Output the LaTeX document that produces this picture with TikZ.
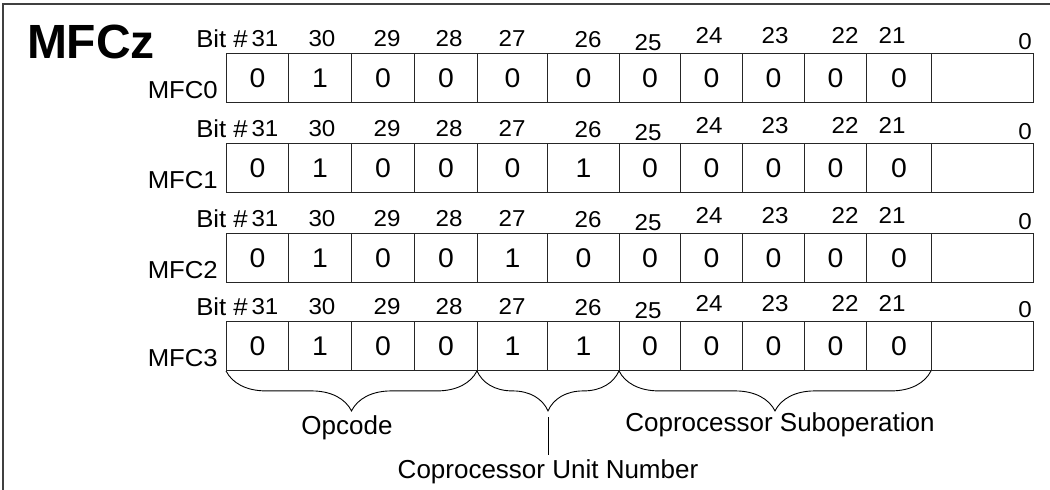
\documentclass[tikz,border=0pt]{standalone}
\usepackage{fontspec}
\setmainfont{Liberation Sans}
\newfontfamily\widesans[FakeStretch=1.05]{Liberation Sans}
\usetikzlibrary{decorations.pathreplacing}
\begin{document}
\begin{tikzpicture}[x=1pt,y=1pt,
  cellbox/.style={draw=black!85,line width=0.9pt,inner sep=0pt,minimum height=49pt,anchor=north west,font=\widesans\fontsize{27}{29}\selectfont},
  bitnum/.style={font=\widesans\fontsize{23}{25}\selectfont,inner sep=0pt},
  rowlab/.style={font=\widesans\fontsize{24.5}{26}\selectfont,inner sep=0pt,anchor=east},
  fieldlab/.style={font=\fontsize{26}{28}\selectfont,inner sep=0pt,anchor=base},
  bracedeco/.style={decorate,decoration={brace,mirror,amplitude=40pt},line width=0.9pt},
  frameline/.style={line width=1.4pt,draw=black!75}]
\useasboundingbox (0,0) rectangle (1050,-490);
\draw[frameline] (3,-495) -- (3,-4) -- (1055,-4);
\node[font=\bfseries\fontsize{48}{50}\selectfont,inner sep=0pt] (title) at (91,-42) {MFCz};
\foreach \r/\top/\u/\w in {0/53/0/0,1/143/0/1,2/233/1/0,3/321/1/1}{
  \foreach \a/\b/\v [count=\i] in {226/288/0,288/351/1,351/414/0,414/477/0,477/547/\u,547/619/\w,619/680/0,680/742/0,742/804/0,804/866/0,866/931/0,931/1033/{}}
    \node[cellbox,minimum width={\b-\a}] (c\r-\i) at (\a,-\top) {\v};
  \foreach \n/\x/\dy in {31/265/14.5,30/322/14.5,29/387/14.5,28/449/14.5,27/512/14.5,26/588/13.5,25/648/10.5,24/709/17.5,23/775/17.5,22/845/17.5,21/892/17.5,0/1025/11.5}
    \node[bitnum] (b\r-\n) at (\x,-\top+\dy) {\n};
  \node[rowlab] (bit\r) at (248,-\top+14.5) {Bit \#};
  \node[rowlab] (lab\r) at (218,-\top-37) {MFC\r};
}
\draw[bracedeco] (c3-1.south west) -- (c3-5.south west);
\draw[bracedeco] (c3-5.south west) -- (c3-7.south west);
\draw[bracedeco] (c3-7.south west) -- (c3-12.south west);
\node[fieldlab] (opcode) at (347,-434.5) {Opcode};
\node[fieldlab] (subop) at (780,-431.5) {Coprocessor Suboperation};
\node[fieldlab] (unit) at (548,-478.5) {Coprocessor Unit Number};
\coordinate (tipU) at (548,-417);
\draw[line width=0.9pt] (tipU) -- ([yshift=4pt]unit.north);
\end{tikzpicture}
\end{document}
